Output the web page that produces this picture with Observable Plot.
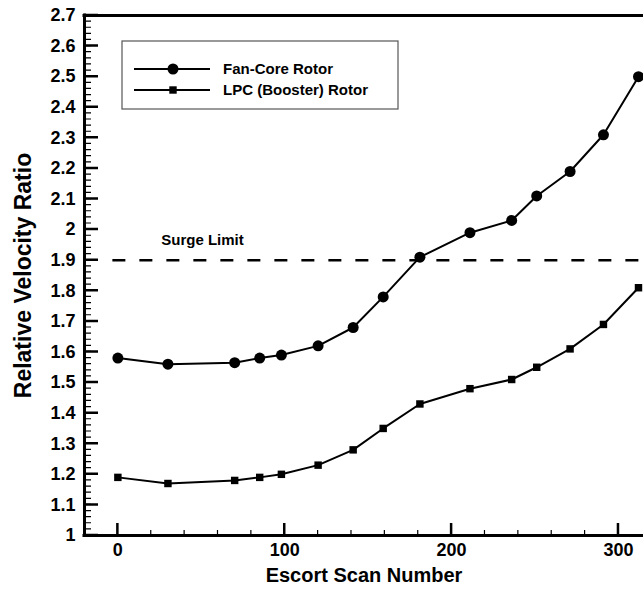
<!DOCTYPE html>
<html>
<head>
<meta charset="utf-8">
<script src="https://cdn.jsdelivr.net/npm/d3@7"></script>
<script src="https://cdn.jsdelivr.net/npm/@observablehq/plot@0.6"></script>
<style>
  body { margin: 0; background: #fff; }
  #chart { width: 643px; height: 598px; }
</style>
</head>
<body>
<div id="chart"></div>
<script>
// Escort scan numbers shared by both rotors
const scanNumber = [0, 30, 70, 85, 98, 120, 141, 159, 181, 211, 236, 251, 271, 291, 312];
// Relative velocity ratio per rotor
const fanCoreRotor = [1.58, 1.56, 1.565, 1.58, 1.59, 1.62, 1.68, 1.78, 1.91, 1.99, 2.03, 2.11, 2.19, 2.31, 2.50];
const lpcRotor = [1.19, 1.17, 1.18, 1.19, 1.20, 1.23, 1.28, 1.35, 1.43, 1.48, 1.51, 1.55, 1.61, 1.69, 1.81];
const seriesNames = ["Fan-Core Rotor", "LPC (Booster) Rotor"];

// Surge limit reference
const surgeLimit = 1.9;
const surgeStart = -3;
const surgeLabelX = 26;
const surgeLabel = "Surge Limit";

// Axes
const xDomain = [-20, 315];
const yDomain = [1, 2.7];
const xMajorTicks = [0, 100, 200, 300];
const xMinorTicks = [20, 40, 60, 80, 120, 140, 160, 180, 220, 240, 260, 280];
const yMajorTicks = [1, 1.1, 1.2, 1.3, 1.4, 1.5, 1.6, 1.7, 1.8, 1.9, 2, 2.1, 2.2, 2.3, 2.4, 2.5, 2.6, 2.7];
const yMinorTicks = d3.range(50, 136).map(i => i / 50);
const xTitle = "Escort Scan Number";
const yTitle = "Relative Velocity Ratio";

const font = "'Liberation Sans', Arial, Helvetica, sans-serif";

// Layout
const chartW = 643, chartH = 598;
const margin = {left: 84, right: 0, top: 15, bottom: 63};

const fanRows = scanNumber.map((s, i) => ({scan: s, ratio: fanCoreRotor[i], rotor: seriesNames[0]}));
const lpcRows = scanNumber.map((s, i) => ({scan: s, ratio: lpcRotor[i], rotor: seriesNames[1]}));

const plot = Plot.plot({
  width: chartW,
  height: chartH,
  marginLeft: margin.left,
  marginRight: margin.right,
  marginTop: margin.top,
  marginBottom: margin.bottom,
  style: {fontFamily: font, fontSize: "18px", fontWeight: "bold", background: "#fff", color: "#000"},
  x: {domain: xDomain, label: null},
  y: {domain: yDomain, label: null},
  marks: [
    Plot.axisY({ticks: yMajorTicks, tickSize: 0, tickPadding: 9, tickFormat: d3.format(""), label: null}),
    Plot.axisX({ticks: xMajorTicks, tickSize: 0, tickPadding: 8, tickFormat: d3.format(""), label: null}),
    // frame
    Plot.ruleX([xDomain[0]], {strokeWidth: 3, strokeLinecap: "square"}),
    Plot.ruleY([yDomain[0]], {strokeWidth: 3, strokeLinecap: "square"}),
    Plot.ruleY([yDomain[1]], {strokeWidth: 3, strokeLinecap: "square"}),
    // surge limit
    Plot.ruleY([surgeLimit], {x1: surgeStart, x2: xDomain[1], strokeWidth: 2.6, strokeDasharray: "13,14"}),
    Plot.text([surgeLabel], {x: () => surgeLabelX, y: () => surgeLimit, text: d => d, textAnchor: "start", dy: -20, fontSize: 15, fontWeight: "bold"}),
    // series
    Plot.line(fanRows, {x: "scan", y: "ratio", stroke: "#000", strokeWidth: 2}),
    Plot.line(lpcRows, {x: "scan", y: "ratio", stroke: "#000", strokeWidth: 2}),
    Plot.dot(fanRows, {x: "scan", y: "ratio", symbol: "circle", r: 5.5, fill: "#000"}),
    Plot.dot(lpcRows, {x: "scan", y: "ratio", symbol: "square", r: 4.2, fill: "#000"}),
    // axis titles
    Plot.text([yTitle], {frameAnchor: "left", text: d => d, rotate: -90, dx: -61, fontSize: 23, fontWeight: "bold", textAnchor: "middle", lineAnchor: "middle"}),
    Plot.text([xTitle], {frameAnchor: "bottom", text: d => d, dy: 40, fontSize: 20, fontWeight: "bold", textAnchor: "middle", lineAnchor: "middle"})
  ]
});

const svg = d3.select(plot);

// Position helpers built on the chart's own scales
const xScale = plot.scale("x"), yScale = plot.scale("y");
const px = v => xScale.apply(v);
const py = v => yScale.apply(v);
const frameLeft = px(xDomain[0]);
const frameBottom = py(yDomain[0]);

// Tick marks pointing into the frame from the left and bottom edges
const tickLayer = svg.append("g").attr("class", "inner-ticks");
const addTicks = (d, sw) => tickLayer.append("path")
  .attr("d", d).attr("fill", "none").attr("stroke", "#000").attr("stroke-width", sw);
const yPath = (values, len) => values.map(v => `M${frameLeft},${py(v)}h${len}`).join("");
const xPath = (values, len) => values.map(v => `M${px(v)},${frameBottom}v${-len}`).join("");
addTicks(yPath(yMinorTicks, 7), 1.2);
addTicks(yPath(yMajorTicks, 14), 2.5);
addTicks(xPath(xMinorTicks, 5), 1.2);
addTicks(xPath(xMajorTicks, 12), 2.5);

// Legend box drawn inside the plot frame
const lg = svg.append("g").attr("transform", "translate(122,41)").attr("text-anchor", "start");
lg.append("rect").attr("width", 276).attr("height", 68).attr("fill", "#fff").attr("stroke", "#555").attr("stroke-width", 1.2);
seriesNames.forEach((name, i) => {
  const y = 28 + i * 21;
  lg.append("line").attr("x1", 12).attr("x2", 88).attr("y1", y).attr("y2", y).attr("stroke", "#000").attr("stroke-width", 2);
  if (i === 0) {
    lg.append("circle").attr("cx", 51).attr("cy", y).attr("r", 5.5).attr("fill", "#000");
  } else {
    lg.append("rect").attr("x", 51 - 3.7).attr("y", y - 3.7).attr("width", 7.4).attr("height", 7.4).attr("fill", "#000");
  }
  lg.append("text").attr("x", 101).attr("y", y).attr("dy", "0.35em")
    .attr("font-size", 15).attr("font-weight", "bold").attr("fill", "#000").text(name);
});

document.getElementById("chart").appendChild(plot);
</script>
</body>
</html>
